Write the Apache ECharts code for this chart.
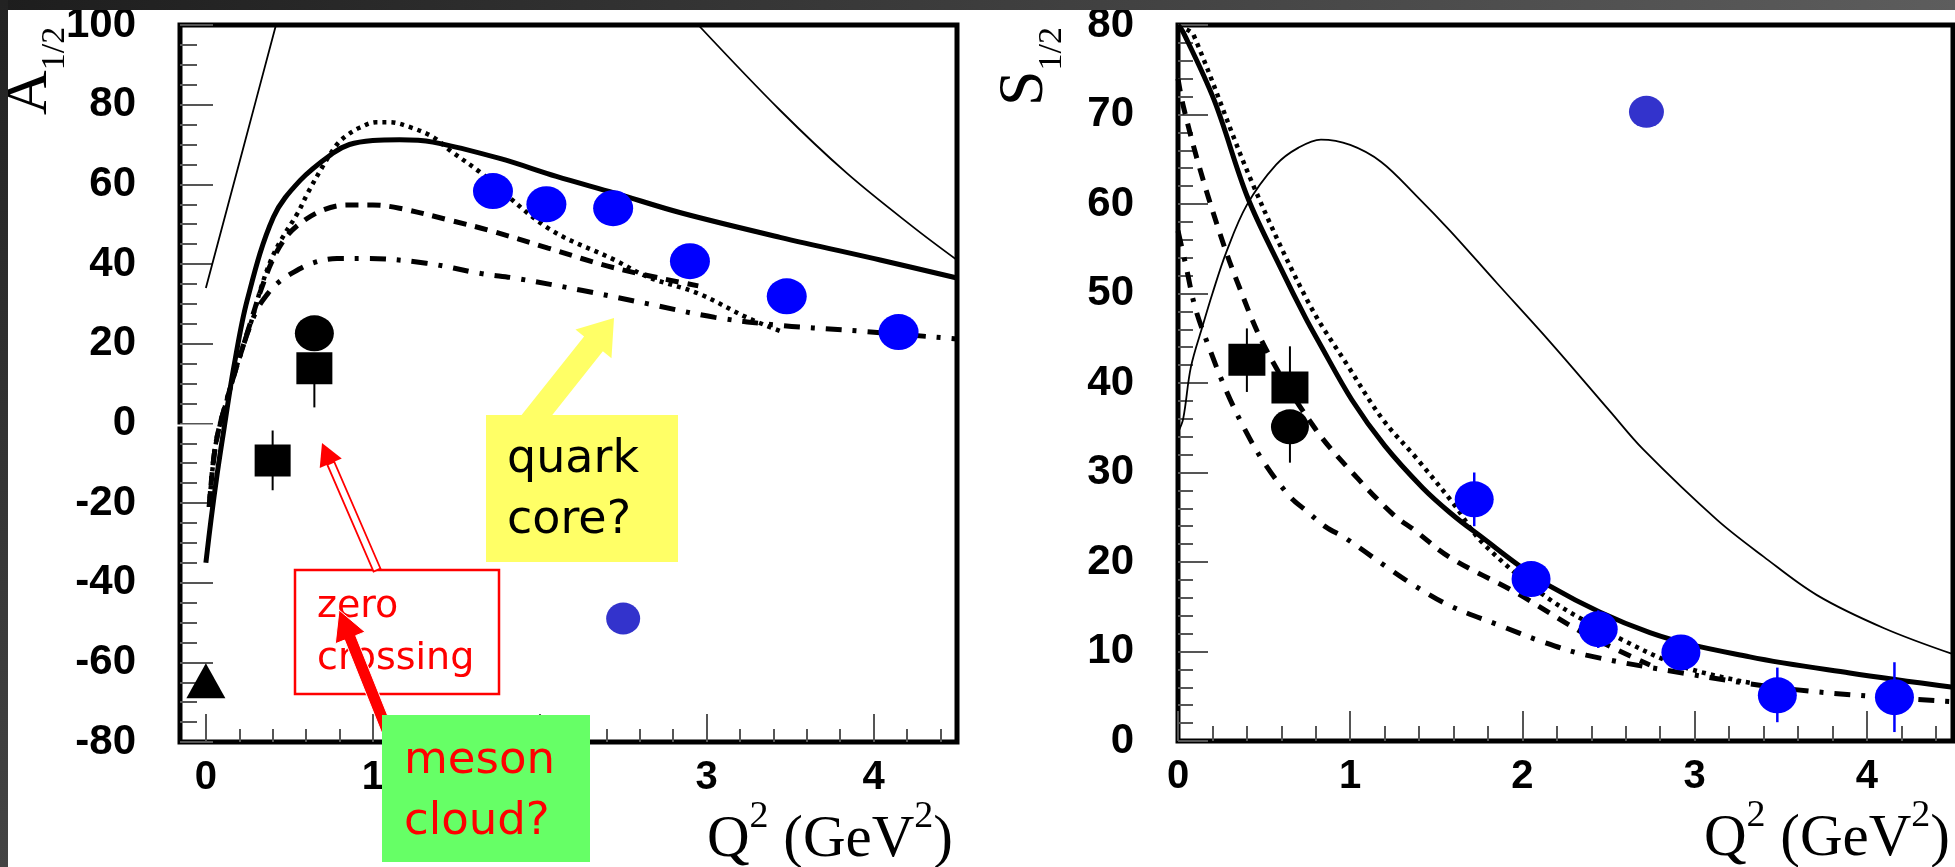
<!DOCTYPE html>
<html>
<head>
<meta charset="utf-8">
<title>A1/2 and S1/2 versus Q2</title>
<script src="https://cdn.jsdelivr.net/npm/echarts@6/dist/echarts.min.js"></script>
<style>
	html, body { margin: 0; padding: 0; background: #fff; }
	#chart { width: 1955px; height: 867px; }
</style>
</head>
<body>
<div id="chart"></div>
<script>
	'use strict';

	// tick labels of both Q2 axes
	var xTicks = [0, 1, 2, 3, 4];
	var xMinor = [];
	for (var i = 1; i <= 22; i++) {
		if (i % 5 !== 0) { xMinor.push(Math.round(i * 2) / 10); }
	}

	// ---- left panel: A1/2 ----
	var aThick = [[0, -35], [0.03, -24.5], [0.07, -12], [0.11, -1], [0.167, 14], [0.248, 31], [0.405, 51.8],
		[0.565, 61], [0.76, 67.8], [0.86, 70], [1.0, 71], [1.16, 71.2], [1.36, 70.6], [1.76, 66.5], [2.1, 62],
		[2.45, 57.8], [2.85, 52.8], [3.44, 46.7], [4.04, 41], [4.5, 36.5]];
	var aThinLow = [[0.0, 34], [0.22, 68.5], [0.42, 100]];
	var aThinHigh = [[2.95, 100], [3.44, 78.6], [3.84, 62.8], [4.24, 49.2], [4.5, 41]];
	var aDotted = [[0.02, -21], [0.06, -5], [0.14, 8], [0.22, 19], [0.28, 26.6], [0.33, 34], [0.39, 41],
		[0.45, 46], [0.55, 52.8], [0.61, 57.8], [0.70, 64.5], [0.785, 70], [0.845, 72.3], [0.92, 74.2],
		[1.02, 75.6], [1.1, 75.6], [1.22, 74.4], [1.36, 71.9], [1.46, 68.6], [1.65, 62.8], [2.05, 49],
		[2.45, 41], [2.65, 36.7], [2.95, 32.6], [3.24, 26.6], [3.45, 23]];
	var aDashed = [[0.02, -21], [0.06, -5], [0.14, 8], [0.22, 19], [0.28, 27], [0.33, 33.5], [0.4, 41],
		[0.476, 46.5], [0.565, 50.2], [0.70, 53.5], [0.845, 54.8], [1.0, 54.8], [1.16, 54], [1.46, 51],
		[1.71, 48.3], [2.05, 44], [2.45, 39], [2.95, 34.5]];
	var aDashDot = [[0.02, -21], [0.06, -5], [0.14, 8], [0.22, 19], [0.3, 28], [0.37, 32.5], [0.43, 35.2],
		[0.524, 37.9], [0.643, 40.3], [0.786, 41.4], [0.96, 41.4], [1.32, 40.2], [1.65, 37.6], [1.86, 36.4],
		[2.25, 33.4], [2.65, 30], [3.05, 26.6], [3.44, 24.6], [3.84, 23.4], [4.5, 21.2]];
	var aBlue = [[1.72, 58.3], [2.04, 55], [2.44, 54], [2.9, 40.7], [3.48, 31.9], [4.15, 22.9]];
	var aDarkBlue = [[2.5, -49]];
	var aCircle = [[0.65, 22.6]];
	var aSquare = [[0.65, 13.8], [0.4, -9.3]];
	var aTriangle = [[0.0, -64.6]];
	var aErr = [[0.65, 4, 13.8], [0.4, -16.8, -1.8]];

	// ---- right panel: S1/2 ----
	var sThick = [[0, 80], [0.03, 79.2], [0.21, 71.6], [0.405, 60.7], [0.6, 52.7], [0.74, 47.3], [0.82, 44.5],
		[1.01, 38.1], [1.2, 33.0], [1.42, 28.3], [1.58, 25.5], [1.72, 23.4], [2.16, 17.3], [2.74, 12.1],
		[3.32, 9.4], [3.9, 7.6], [4.5, 6]];
	var sThin = [[0, 34.5], [0.03, 36], [0.075, 41.8], [0.145, 46.5], [0.2, 50], [0.28, 54.6], [0.4, 59.9],
		[0.57, 64.4], [0.7, 66.3], [0.83, 67.2], [1.0, 66.6], [1.18, 64.7], [1.38, 61], [1.58, 57],
		[1.85, 51.2], [2.16, 44.6], [2.51, 36.8], [2.7, 32.6], [3.13, 24.7], [3.4, 20.6], [3.71, 16.3],
		[4.1, 12.6], [4.5, 9.7]];
	var sDotted = [[0.05, 79.5], [0.09, 78.9], [0.43, 62.4], [0.76, 48.9], [0.99, 41.8], [1.19, 35.9],
		[1.38, 31.7], [1.6, 26.5], [1.77, 22.1], [2.16, 15.8], [2.55, 11.6], [2.93, 8.3], [3.32, 6.5]];
	var sDashed = [[0, 74], [0.03, 71], [0.12, 64.4], [0.24, 56.9], [0.34, 51.5], [0.51, 43.8], [0.8, 34.8],
		[1.05, 29.2], [1.25, 25.3], [1.37, 23.6], [1.58, 20.5], [1.97, 16.5], [2.35, 12.1], [2.74, 8.5]];
	var sDashDot = [[0, 57], [0.045, 53.2], [0.1, 48.4], [0.18, 44], [0.27, 39.6], [0.38, 35.1], [0.5, 31.1],
		[0.65, 27.3], [0.74, 25.8], [0.86, 23.9], [0.97, 22.7], [1.2, 19.6], [1.37, 17.4], [1.58, 15.1],
		[1.87, 12.9], [2.1, 11.2], [2.37, 9.6], [2.93, 7.6], [3.51, 5.9], [4.09, 4.9], [4.5, 4.4]];
	var sBlue = [[1.72, 27], [2.05, 18.1], [2.44, 12.5], [2.92, 9.9], [3.48, 5.1], [4.16, 4.9]];
	var sBlueErr = [[1.72, 24, 30], [2.05, 16.6, 19.6], [2.44, 10.4, 14.6], [2.92, 8.5, 11.3],
		[3.48, 2.1, 8.2], [4.16, 1.0, 8.8]];
	var sDarkBlue = [[2.72, 70.3]];
	var sSquare = [[0.4, 42.6], [0.65, 39.5]];
	var sCircle = [[0.65, 35.1]];
	var sErr = [[0.4, 39, 46.1], [0.65, 39.5, 44.1], [0.65, 31.1, 35.1]];

	var tickGray = '#555';
	var labelFont = { fontSize: 42, fontWeight: 'bold', fontFamily: 'Liberation Sans', color: '#000' };

	function mainX(grid, min, majorLen) {
		return {
			gridIndex: grid, type: 'value', position: 'bottom', min: min, max: 4.5,
			axisLine: { show: false, onZero: false }, splitLine: { show: false },
			axisTick: { inside: true, length: majorLen, customValues: xTicks, lineStyle: { color: tickGray, width: 2 } },
			axisLabel: { customValues: xTicks, margin: 16, fontSize: 40, fontWeight: 'bold', fontFamily: 'Liberation Sans', color: '#000' }
		};
	}
	function minorX(grid, min, len) {
		return {
			gridIndex: grid, type: 'value', position: 'bottom', min: min, max: 4.5,
			axisLine: { show: false, onZero: false }, splitLine: { show: false }, axisLabel: { show: false },
			axisTick: { inside: true, length: len, customValues: xMinor, lineStyle: { color: tickGray, width: 2 } }
		};
	}
	function yAxis(grid, min, max, step, split, majorLen, minorLen) {
		return {
			gridIndex: grid, type: 'value', position: 'left', min: min, max: max, interval: step,
			axisLine: { show: false, onZero: false }, splitLine: { show: false },
			axisTick: { inside: true, length: majorLen, lineStyle: { color: tickGray, width: 2 } },
			minorTick: { show: true, splitNumber: split, length: minorLen, lineStyle: { color: tickGray, width: 2 } },
			axisLabel: Object.assign({ margin: 44 }, labelFont)
		};
	}

	function curve(data, xi, yi, width, type) {
		return {
			type: 'line', xAxisIndex: xi, yAxisIndex: yi, data: data, symbol: 'none', smooth: 0.35,
			clip: true, silent: true, z: 3,
			lineStyle: { color: '#000', width: width, type: type, cap: 'butt' }
		};
	}
	function dots(data, xi, yi, symbol, size, color) {
		return {
			type: 'scatter', xAxisIndex: xi, yAxisIndex: yi, data: data, symbol: symbol, symbolSize: size,
			itemStyle: { color: color, opacity: 1 }, silent: true, z: 5
		};
	}
	function errBars(data, xi, yi, color, w) {
		return {
			type: 'custom', xAxisIndex: xi, yAxisIndex: yi, data: data, encode: { x: 0, y: [1, 2] },
			silent: true, z: 4,
			renderItem: function (params, api) {
				var p0 = api.coord([api.value(0), api.value(1)]);
				var p1 = api.coord([api.value(0), api.value(2)]);
				return {
					type: 'line',
					shape: { x1: p0[0], y1: p0[1], x2: p1[0], y2: p1[1] },
					style: { stroke: color, lineWidth: w }
				};
			}
		};
	}

	// serif axis titles, pieced together so sub/superscripts sit right
	var ctx = document.createElement('canvas').getContext('2d');
	function textW(str, size) {
		ctx.font = size + 'px "Liberation Serif"';
		return ctx.measureText(str).width;
	}
	function serifRow(parts, xRight, yMid) {
		var total = 0;
		parts.forEach(function (p) { total += textW(p[0], p[1]); });
		var x = xRight - total;
		return parts.map(function (p) {
			var el = {
				type: 'text', x: x, y: yMid + p[2], z: 20,
				style: { text: p[0], fontFamily: 'Liberation Serif', fontSize: p[1], fill: '#000', align: 'left', verticalAlign: 'middle' }
			};
			x += textW(p[0], p[1]);
			return el;
		});
	}
	function serifCol(parts, xMid, yBottom) {
		var y = yBottom;
		return parts.map(function (p) {
			var el = {
				type: 'text', x: xMid + p[2], y: y, rotation: Math.PI / 2, z: 20,
				style: { text: p[0], fontFamily: 'Liberation Serif', fontSize: p[1], fill: '#000', align: 'left', verticalAlign: 'middle' }
			};
			y -= textW(p[0], p[1]);
			return el;
		});
	}

	function arrow(x0, y0, x1, y1, bw, hl, hw) {
		var dx = x1 - x0, dy = y1 - y0, L = Math.sqrt(dx * dx + dy * dy);
		var ux = dx / L, uy = dy / L, px = -uy, py = ux;
		var bx = x1 - ux * hl, by = y1 - uy * hl;
		return [
			[x0 + px * bw / 2, y0 + py * bw / 2], [bx + px * bw / 2, by + py * bw / 2],
			[bx + px * hw / 2, by + py * hw / 2], [x1, y1], [bx - px * hw / 2, by - py * hw / 2],
			[bx - px * bw / 2, by - py * bw / 2], [x0 - px * bw / 2, y0 - py * bw / 2]
		];
	}
	function head(x0, y0, x1, y1, hl, hw) {
		var p = arrow(x0, y0, x1, y1, 0, hl, hw);
		return [p[2], p[3], p[4]];
	}
	function shaft(x0, y0, x1, y1, bw, hl) {
		var p = arrow(x0, y0, x1, y1, bw, hl, bw);
		return [p[0], p[1], p[5], p[6]];
	}

	var annoFont = 'DejaVu Sans';
	var graphics = [
		{ type: 'rect', z: 30, shape: { x: 0, y: 0, width: 1955, height: 10 },
			style: { fill: new echarts.graphic.LinearGradient(0, 0, 1, 0, [{ offset: 0, color: '#1d1d1d' }, { offset: 1, color: '#5d5d5d' }]) } },
		{ type: 'rect', z: 30, shape: { x: 0, y: 0, width: 8, height: 867 },
			style: { fill: new echarts.graphic.LinearGradient(0, 0, 0, 1, [{ offset: 0, color: '#222' }, { offset: 1, color: '#444' }]) } },
		{ type: 'line', z: 1, shape: { x1: 175, y1: 425.5, x2: 227, y2: 425.5 }, style: { stroke: '#fff', lineWidth: 2 } },

		// quark core note
		{ type: 'polygon', z: 10, shape: { points: arrow(529, 425, 614, 318, 24, 33, 46) }, style: { fill: '#ffff66' } },
		{ type: 'rect', z: 11, shape: { x: 486, y: 415, width: 192, height: 147 }, style: { fill: '#ffff66' } },
		{ type: 'text', z: 12, x: 507, y: 491, style: { text: 'quark\ncore?', fontFamily: annoFont, fontSize: 46, lineHeight: 61, fill: '#000', align: 'left', verticalAlign: 'middle' } },

		// zero crossing note
		{ type: 'rect', z: 11, shape: { x: 295, y: 570, width: 204, height: 124 }, style: { fill: '#fff', stroke: '#ff0000', lineWidth: 2.5 } },
		{ type: 'text', z: 12, x: 317, y: 633, style: { text: 'zero\ncrossing', fontFamily: annoFont, fontSize: 38, lineHeight: 52, fill: '#ff0000', align: 'left', verticalAlign: 'middle' } },
		{ type: 'polygon', z: 12, shape: { points: shaft(377, 570, 322, 443, 7.5, 22) }, style: { fill: '#fff', stroke: '#ff0000', lineWidth: 1.8 } },
		{ type: 'polygon', z: 12, shape: { points: head(377, 570, 322, 443, 22, 24) }, style: { fill: '#ff0000' } },

		// meson cloud note
		{ type: 'polygon', z: 13, shape: { points: arrow(389, 735, 339, 610, 12, 30, 32) }, style: { fill: '#ff0000', stroke: '#fff', lineWidth: 1 } },
		{ type: 'rect', z: 14, shape: { x: 382, y: 715, width: 208, height: 147 }, style: { fill: '#66ff66' } },
		{ type: 'text', z: 15, x: 404, y: 792, style: { text: 'meson\ncloud?', fontFamily: annoFont, fontSize: 45, lineHeight: 61, fill: '#ff0000', align: 'left', verticalAlign: 'middle' } }
	];
	graphics = graphics
		.concat(serifCol([['A', 62, 0], ['1/2', 34, 25]], 30, 115))
		.concat(serifCol([['S', 64, 0], ['1/2', 34, 27]], 1025, 106))
		.concat(serifRow([['Q', 59, 0], ['2', 38, -23], [' (GeV', 59, 0], ['2', 38, -23], [')', 59, 0]], 953, 840))
		.concat(serifRow([['Q', 59, 0], ['2', 38, -23], [' (GeV', 59, 0], ['2', 38, -23], [')', 59, 0]], 1950, 839));

	var chart = echarts.init(document.getElementById('chart'), null, { renderer: 'canvas' });
	var option = {
		animation: false,
		backgroundColor: '#fff',
		grid: [
			{ left: 180, top: 25, width: 777, height: 717, show: true, borderColor: '#000', borderWidth: 5, backgroundColor: '#fff' },
			{ left: 1178, top: 25, width: 775, height: 716, show: true, borderColor: '#000', borderWidth: 5, backgroundColor: '#fff' }
		],
		xAxis: [
			mainX(0, -0.155, 28), minorX(0, -0.155, 13),
			mainX(1, 0, 30), minorX(1, 0, 15)
		],
		yAxis: [
			yAxis(0, -80, 100, 20, 4, 33, 17),
			yAxis(1, 0, 80, 10, 5, 30, 15)
		],
		series: [
			curve(aThinLow, 0, 0, 1.8, 'solid'),
			curve(aThinHigh, 0, 0, 1.8, 'solid'),
			curve(aDashDot, 0, 0, 5, [16, 11, 4, 11]),
			curve(aDashed, 0, 0, 5, [13, 9]),
			curve(aDotted, 0, 0, 4.5, [4, 5]),
			curve(aThick, 0, 0, 5, 'solid'),
			errBars(aErr, 0, 0, '#000', 2),
			dots(aBlue, 0, 0, 'circle', [40, 36], '#0000ff'),
			dots(aDarkBlue, 0, 0, 'circle', [34, 32], '#3333cc'),
			dots(aSquare, 0, 0, 'rect', [36, 32], '#000'),
			dots(aCircle, 0, 0, 'circle', [39, 36], '#000'),
			dots(aTriangle, 0, 0, 'triangle', [39, 35], '#000'),

			curve(sThin, 2, 1, 1.8, 'solid'),
			curve(sDashDot, 2, 1, 5, [16, 11, 4, 11]),
			curve(sDashed, 2, 1, 5, [13, 10]),
			curve(sDotted, 2, 1, 4.5, [4, 5]),
			curve(sThick, 2, 1, 5, 'solid'),
			errBars(sErr, 2, 1, '#000', 2),
			errBars(sBlueErr, 2, 1, '#0000ff', 2.5),
			dots(sBlue, 2, 1, 'circle', [39, 36], '#0000ff'),
			dots(sDarkBlue, 2, 1, 'circle', [35, 32], '#3333cc'),
			dots(sSquare, 2, 1, 'rect', [37, 32], '#000'),
			dots(sCircle, 2, 1, 'circle', [38, 35], '#000')
		],
		graphic: graphics
	};
	chart.setOption(option);
</script>
</body>
</html>
